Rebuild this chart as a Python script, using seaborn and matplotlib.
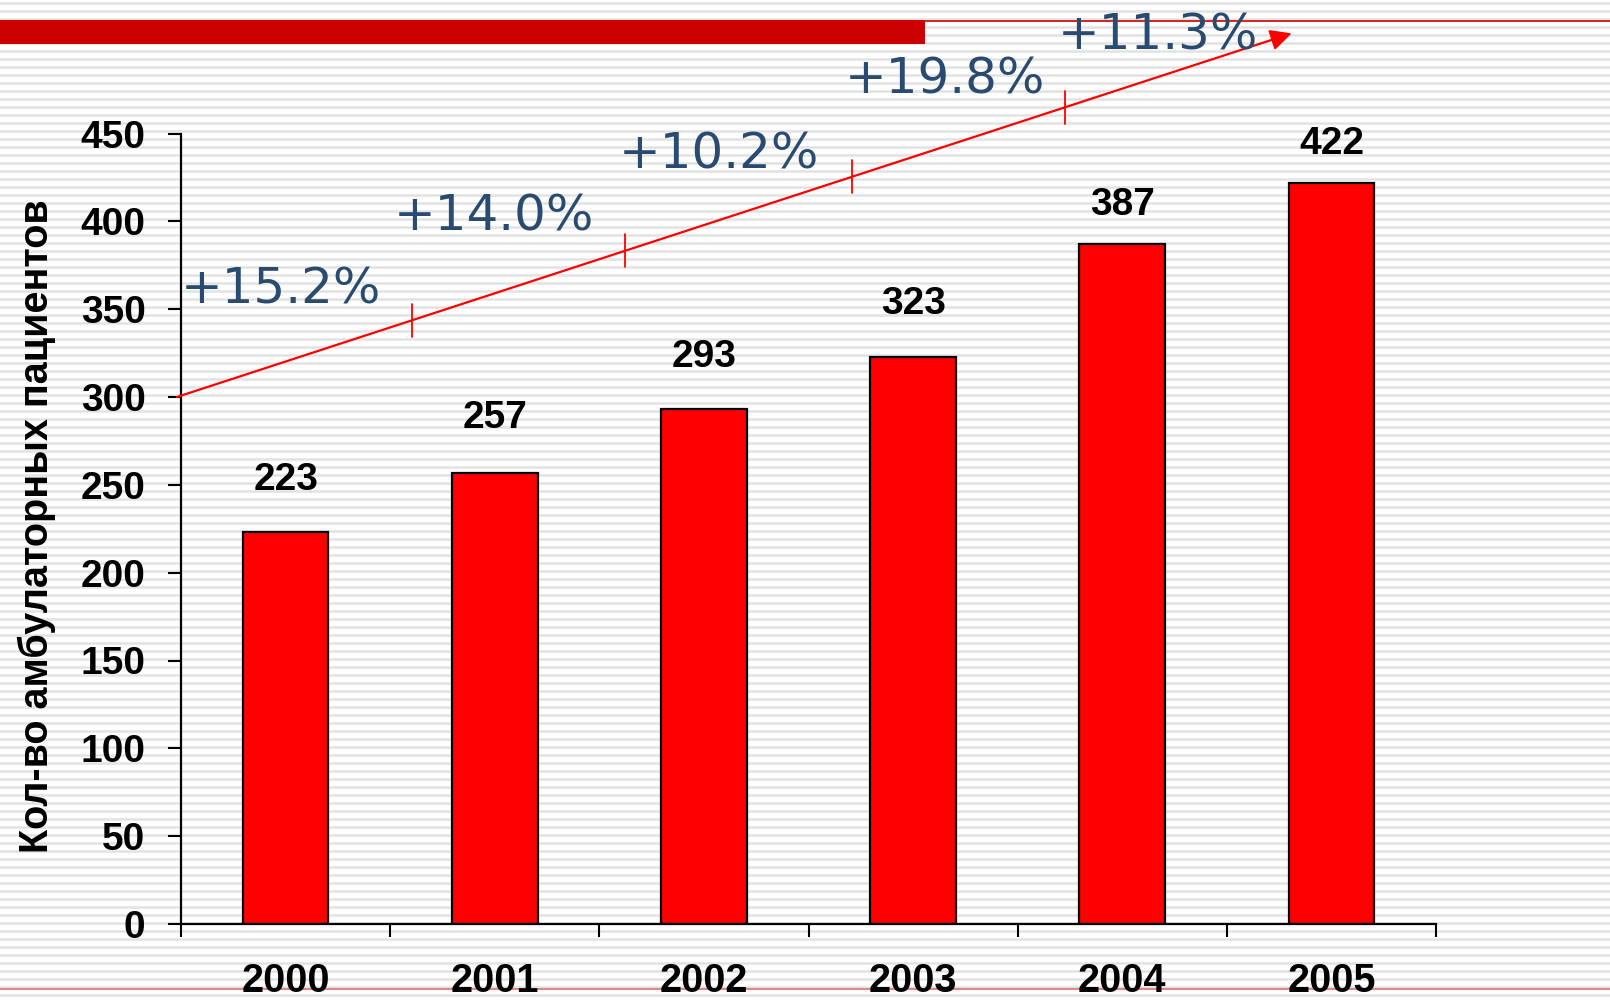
import numpy as np
import pandas as pd
import matplotlib
matplotlib.use("Agg")
import matplotlib.pyplot as plt
import seaborn as sns
from matplotlib.patches import Rectangle
from matplotlib.ticker import FixedLocator

# data
years = ["2000", "2001", "2002", "2003", "2004", "2005"]
patients = [223, 257, 293, 323, 387, 422]
y_ticks = list(range(0, 451, 50))
y_title = "Кол-во амбулаторных пациентов"
# gap between bar top and its value label, in points
label_pad = [25, 26, 25, 25, 15, 15]

# growth trend arrow and its labels (category x, value y)
growth_labels = ["+15.2%", "+14.0%", "+10.2%", "+19.8%", "+11.3%"]
growth_x = [-0.5, 0.515, 1.594, 2.674, 3.69]
growth_y = [361, 403, 438, 481, 506]
trend_start = (-0.52, 300)
trend_end = (4.81, 507)
trend_marks = [0.211, 0.402, 0.606, 0.797]  # fractions along the arrow

W, H = 1610, 1001

sns.set_theme(style="white")
plt.rcParams["font.family"] = ["Liberation Sans", "DejaVu Sans"]
plt.rcParams["text.color"] = "black"
plt.rcParams["xtick.color"] = "black"
plt.rcParams["ytick.color"] = "black"

fig = plt.figure(figsize=(W / 100, H / 100), dpi=100)
fig.patch.set_facecolor("white")

# slide background: thin grey stripes + red header bar
bg = fig.add_axes([0, 0, 1, 1], zorder=-10)
bg.set_xlim(0, W)
bg.set_ylim(H, 0)
bg.axis("off")
for yy in np.arange(3, H, 8):
    bg.axhline(yy, color="#e2e2e2", lw=1.8, zorder=1)
bg.add_patch(Rectangle((0, 20), 925, 24, color="#cc0000", lw=0, zorder=5))
bg.plot([925, W], [21, 21], color="#cc0000", lw=1.2, zorder=5)
bg.plot([0, W], [989, 989], color="#e07070", lw=1.2, zorder=5)

# main chart
ax = fig.add_axes([181 / W, 1 - 924 / H, (1436 - 181) / W, (924 - 133.5) / H])
ax.patch.set_alpha(0)
df = pd.DataFrame({"year": years, "patients": patients})
sns.barplot(data=df, x="year", y="patients", color="#ff0000", saturation=1,
            width=0.41, edgecolor="black", linewidth=1.6, ax=ax)
ax.set_xlim(-0.5, len(years) - 0.5)
ax.set_ylim(0, 450)
ax.set_xlabel("")
ax.set_ylabel("")

for bar, val, pad in zip(ax.patches, patients, label_pad):
    ax.annotate(str(val), (bar.get_x() + bar.get_width() / 2, bar.get_height()),
                xytext=(0, pad), textcoords="offset points", ha="center",
                va="bottom", fontsize=28, fontweight="bold")

for side in ["top", "right"]:
    ax.spines[side].set_visible(False)
for side in ["left", "bottom"]:
    ax.spines[side].set_color("black")
    ax.spines[side].set_linewidth(1.6)

ax.set_yticks(y_ticks)
ax.set_yticklabels([str(v) for v in y_ticks], fontsize=28, fontweight="bold")
ax.tick_params(axis="y", direction="out", length=9.5, width=1.5, pad=16,
               left=True, color="black")

ax.set_xticks(range(len(years)))
ax.set_xticklabels(years, fontsize=28.5, fontweight="bold")
ax.xaxis.set_minor_locator(FixedLocator(np.arange(-0.5, len(years), 1.0)))
ax.tick_params(axis="x", which="major", length=0, pad=27)
ax.tick_params(axis="x", which="minor", direction="out", length=9,
               width=1.5, bottom=True, color="black")

fig.text(37 / W, 1 - 526 / H, y_title, rotation=90, ha="center", va="center",
         fontsize=28.5, fontweight="bold")

# trend arrow with segment marks
ax.annotate("", xy=trend_end, xytext=trend_start, annotation_clip=False,
            arrowprops=dict(arrowstyle="-|>", color="#ff0000", lw=1.6,
                            mutation_scale=32, shrinkA=0, shrinkB=0))
for f in trend_marks:
    mx = trend_start[0] + f * (trend_end[0] - trend_start[0])
    my = trend_start[1] + f * (trend_end[1] - trend_start[1])
    ax.plot([mx, mx], [my - 9.3, my + 9.3], color="#ff0000", lw=1.3, clip_on=False)

for lab, gx, gy in zip(growth_labels, growth_x, growth_y):
    ax.text(gx, gy, lab, ha="left", va="center", fontsize=36, color="#2a4b70",
            family="DejaVu Sans", clip_on=False)

fig.savefig("out.png", dpi=100)
